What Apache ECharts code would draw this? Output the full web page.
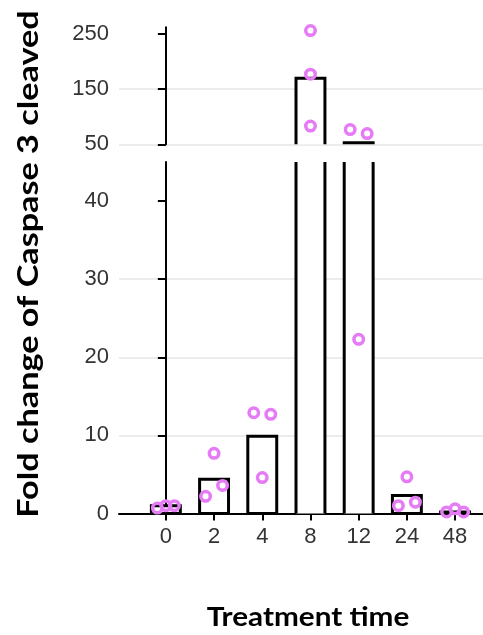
<!DOCTYPE html>
<html>
<head>
<meta charset="utf-8">
<script src="https://cdn.jsdelivr.net/npm/echarts@6/dist/echarts.min.js"></script>
<style>
html,body{margin:0;padding:0;background:#fff;}
#c{width:483px;height:635px;}
</style>
</head>
<body>
<div id="c"></div>
<script>
// ---------------- data ----------------
const categories = ['0', '2', '4', '8', '12', '24', '48'];
const barMeans   = [1.0, 4.4, 9.9, 169.5, 53, 2.3, 0.2];
const rep1       = [0.7, 2.2, 12.9, 256, 76.7, 1.0, 0.2];
const rep2       = [1.0, 7.7, 4.6, 177, 22.3, 4.7, 0.6];
const rep3       = [1.0, 3.6, 12.7, 83, 69.4, 1.45, 0.2];
const lowerTicks = [0, 10, 20, 30, 40];
const upperTicks = [50, 150, 250];
const lowerRange = [0, 45];
const upperRange = [50, 262];

// ---------------- layout / style ----------------
const reps = [rep1, rep2, rep3];
const X_MIN = -0.972, X_MAX = 6.579;
const BAR_RATIO = 0.6;
const DODGE_PX = [-8.5, 0, 8.5];
const COLLIDE_PX = 13;
const POINT_COLOR = '#e67cf5';
const GRID_COLOR = '#e6e6e6';
const LABEL_FONT = 'Liberation Sans';

function barRender(isUpper) {
  return function (params, api) {
    const i = api.value(0), v = api.value(1);
    const cs = params.coordSys;
    const top = cs.y, bottom = cs.y + cs.height;
    const half = api.size([1, 0])[0] * BAR_RATIO / 2;
    const cx = api.coord([i, isUpper ? upperRange[0] : 0])[0];
    const yv = api.coord([i, v])[1];
    const stroke = { stroke: '#000', lineWidth: 3, fill: null };
    if (isUpper) {
      if (yv >= bottom) return null;
      return { type: 'group', children: [
        { type: 'rect', shape: { x: cx - half, y: yv, width: 2 * half, height: bottom - yv }, style: { fill: '#fff' } },
        { type: 'polyline', shape: { points: [[cx - half, bottom], [cx - half, yv], [cx + half, yv], [cx + half, bottom]] }, style: stroke }
      ] };
    }
    if (yv < top) {
      return { type: 'group', children: [
        { type: 'rect', shape: { x: cx - half, y: top, width: 2 * half, height: bottom - top }, style: { fill: '#fff' } },
        { type: 'line', shape: { x1: cx - half, y1: bottom, x2: cx - half, y2: top }, style: stroke },
        { type: 'line', shape: { x1: cx + half, y1: bottom, x2: cx + half, y2: top }, style: stroke }
      ] };
    }
    return { type: 'polygon', shape: { points: [[cx - half, bottom], [cx - half, yv], [cx + half, yv], [cx + half, bottom]] },
      style: { stroke: '#000', lineWidth: 3, fill: '#fff' } };
  };
}

function pointData(offsets) {
  const upper = [], lower = [];
  reps.forEach((rep, r) => rep.forEach((v, i) => {
    const item = { value: [i, v], symbolOffset: [offsets ? offsets[r][i] : 0, 0] };
    (v >= upperRange[0] ? upper : lower).push(item);
  }));
  return { upper, lower };
}

const barData = barMeans.map((v, i) => [i, v]);
const pts = pointData(null);

const axisLineStyle = { color: '#000', width: 2 };
const labelStyle = { color: '#333', fontFamily: LABEL_FONT, fontSize: 22 };
const pointStyle = { color: 'rgba(0,0,0,0)', borderColor: POINT_COLOR, borderWidth: 3.5, opacity: 1 };

const option = {
  animation: false,
  backgroundColor: '#fff',
  grid: [
    { left: 119, right: 0, top: 27.3, height: 117, outerBoundsMode: 'none', containLabel: false },
    { left: 119, right: 0, top: 162, height: 351.5, outerBoundsMode: 'none', containLabel: false }
  ],
  xAxis: [
    { type: 'value', gridIndex: 0, min: X_MIN, max: X_MAX, show: false },
    { type: 'value', gridIndex: 1, min: X_MIN, max: X_MAX,
      axisLine: { show: true, lineStyle: axisLineStyle },
      axisTick: { show: true, length: 7, lineStyle: { color: '#000', width: 2 }, customValues: categories.map((c, i) => i) },
      axisLabel: { show: true, margin: 12, ...labelStyle, customValues: categories.map((c, i) => i),
        formatter: v => categories[Math.round(v)] },
      splitLine: { show: false }
    }
  ],
  yAxis: [
    { type: 'value', gridIndex: 0, min: upperRange[0], max: upperRange[1], interval: 100,
      axisLine: { show: true, lineStyle: axisLineStyle },
      axisTick: { show: true, length: 8, lineStyle: { color: '#000', width: 2 }, customValues: upperTicks },
      axisLabel: { show: true, margin: 10, ...labelStyle, customValues: upperTicks },
      splitLine: { show: true, showMaxLine: false, lineStyle: { color: GRID_COLOR, width: 1.5 } }
    },
    { type: 'value', gridIndex: 1, min: lowerRange[0], max: lowerRange[1], interval: 10,
      axisLine: { show: true, lineStyle: axisLineStyle },
      axisTick: { show: true, length: 8, lineStyle: { color: '#000', width: 2 }, customValues: lowerTicks },
      axisLabel: { show: true, margin: 10, ...labelStyle, customValues: lowerTicks },
      splitLine: { show: true, showMaxLine: false, lineStyle: { color: GRID_COLOR, width: 1.5 } }
    }
  ],
  series: [
    { type: 'custom', xAxisIndex: 0, yAxisIndex: 0, renderItem: barRender(true), data: barData, clip: false, z: 2 },
    { type: 'custom', xAxisIndex: 1, yAxisIndex: 1, renderItem: barRender(false), data: barData, clip: false, z: 2 },
    { id: 'ptsUpper', type: 'scatter', xAxisIndex: 0, yAxisIndex: 0, data: pts.upper, symbol: 'circle', symbolSize: 9.5,
      itemStyle: pointStyle, clip: false, z: 5 },
    { id: 'ptsLower', type: 'scatter', xAxisIndex: 1, yAxisIndex: 1, data: pts.lower, symbol: 'circle', symbolSize: 9.5,
      itemStyle: pointStyle, clip: false, z: 5 }
  ],
  graphic: [
    { type: 'text', x: 29, y: 264, rotation: Math.PI / 2, scaleX: 1.18,
      style: { text: 'Fold change of Caspase 3 cleaved', font: 'bold 29px Lato', fill: '#000', textAlign: 'center', textVerticalAlign: 'middle' } },
    { type: 'text', x: 308, y: 617, scaleX: 1.1,
      style: { text: 'Treatment time', font: 'bold 27px Lato', fill: '#000', textAlign: 'center', textVerticalAlign: 'middle' } }
  ]
};

const chart = echarts.init(document.getElementById('c'), null, { renderer: 'canvas' });
chart.setOption(option);

// dodge overlapping replicate points horizontally (beeswarm-like), using the chart's own scales
const offsets = reps.map(() => categories.map(() => 0));
categories.forEach((c, i) => {
  const ys = reps.map(rep => {
    const v = rep[i];
    const g = v >= upperRange[0] ? 0 : 1;
    return { g, y: chart.convertToPixel({ gridIndex: g }, [i, v])[1] };
  });
  reps.forEach((rep, r) => {
    const hit = ys.some((p, k) => k !== r && p.g === ys[r].g && Math.abs(p.y - ys[r].y) < COLLIDE_PX);
    offsets[r][i] = hit ? DODGE_PX[r] : 0;
  });
});
const pts2 = pointData(offsets);
chart.setOption({ series: [{ id: 'ptsUpper', data: pts2.upper }, { id: 'ptsLower', data: pts2.lower }] });
</script>
</body>
</html>
